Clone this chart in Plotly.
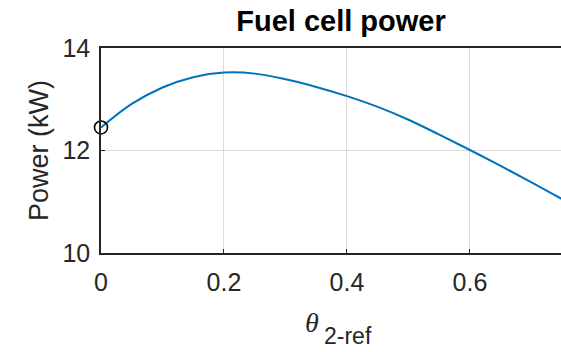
import plotly.graph_objects as go

# Fuel cell power versus theta_2-ref
theta = [0.0, 0.05, 0.10, 0.15, 0.20, 0.25, 0.30, 0.35, 0.40, 0.45, 0.50, 0.55, 0.60, 0.65, 0.70, 0.75]
power_kw = [12.45, 12.91, 13.23, 13.43, 13.52, 13.50, 13.39, 13.24, 13.06, 12.85, 12.60, 12.31, 12.01, 11.70, 11.38, 11.05]

# operating point marked with an open circle
op_theta = [0.0]
op_power = [12.45]

x_ticks = [0, 0.2, 0.4, 0.6]
x_tick_labels = ["0", "0.2", "0.4", "0.6"]
y_ticks = [10, 12, 14]
y_tick_labels = ["10", "12", "14"]

FONT = "Liberation Sans, Arial, Helvetica, sans-serif"
AX = "#262626"

fig = go.Figure()
fig.add_trace(go.Scatter(
    x=theta, y=power_kw, mode="lines",
    line=dict(color="#0072BD", width=2, shape="spline", smoothing=1.0),
    showlegend=False,
))
fig.add_trace(go.Scatter(
    x=op_theta, y=op_power, mode="markers",
    marker=dict(symbol="circle-open", size=13, color="black", line=dict(width=1.6)),
    cliponaxis=False, showlegend=False,
))

fig.update_layout(
    width=561, height=352,
    margin=dict(l=101, r=0, t=48, b=99),
    paper_bgcolor="white", plot_bgcolor="white",
    font=dict(family=FONT, color=AX),
    title=dict(
        text="<b>Fuel cell power</b>",
        font=dict(family=FONT, size=29, color="black"),
        x=341 / 561, xanchor="center", xref="container",
        y=1 - 21 / 352, yanchor="middle", yref="container",
    ),
    xaxis=dict(
        range=[0, 0.748],
        tickvals=x_ticks, ticktext=x_tick_labels,
        tickfont=dict(size=25, color=AX),
        ticks="inside", ticklen=4, tickcolor=AX,
        showline=True, linecolor=AX, linewidth=1.5, mirror=True,
        showgrid=True, gridcolor="#dcdcdc", gridwidth=1,
        zeroline=False, ticklabelstandoff=6,
    ),
    yaxis=dict(
        range=[10, 14],
        tickvals=y_ticks, ticktext=y_tick_labels,
        tickfont=dict(size=25, color=AX),
        ticks="inside", ticklen=4, tickcolor=AX,
        showline=True, linecolor=AX, linewidth=1.5, mirror=False,
        showgrid=True, gridcolor="#dcdcdc", gridwidth=1,
        zeroline=False, ticklabelstandoff=4,
        title=dict(text="Power (kW)", font=dict(size=27, color=AX), standoff=6),
    ),
)

# x-axis label: italic theta with a subscript
fig.add_annotation(
    text="<i>θ</i>", xref="paper", yref="paper",
    x=(312 - 101) / 460, y=-(322 - 253) / 205,
    xanchor="center", yanchor="middle", showarrow=False,
    font=dict(family="Liberation Serif, Times New Roman, serif", size=28, color=AX),
)
fig.add_annotation(
    text="2-ref", xref="paper", yref="paper",
    x=(348 - 101) / 460, y=-(336 - 253) / 205,
    xanchor="center", yanchor="middle", showarrow=False,
    font=dict(family=FONT, size=23, color=AX),
)

fig.write_html("out.html")
